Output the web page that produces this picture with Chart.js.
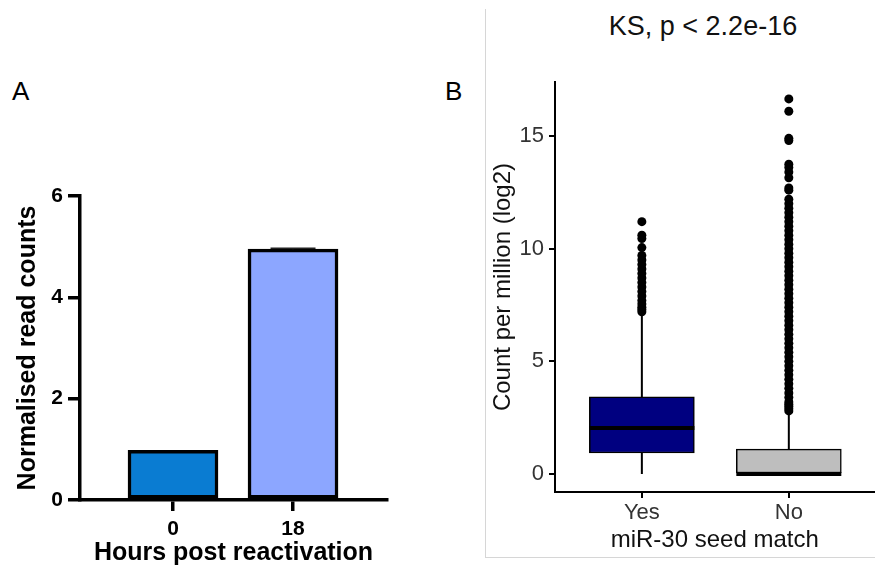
<!DOCTYPE html>
<html>
<head>
<meta charset="utf-8">
<script src="https://cdn.jsdelivr.net/npm/chart.js@4.4.1/dist/chart.umd.min.js"></script>
<style>
  html, body { margin: 0; padding: 0; background: #fff; overflow: hidden; }
  body { width: 875px; height: 572px; position: relative; font-family: "Liberation Sans", Arial, sans-serif; }
  .panel-label { position: absolute; font-size: 26px; line-height: 26px; color: #000; }
  #titleB { position: absolute; left: 531px; top: 10px; width: 344px; text-align: center;
            font-size: 27px; line-height: 32px; color: #111; white-space: nowrap; }
  #frameB { position: absolute; left: 485px; top: 9px; width: 390px; height: 548px;
            border-left: 1px solid #d6d6d6; border-bottom: 1px solid #d6d6d6; }
  #wrapA { position: absolute; left: 0; top: 0; width: 440px; height: 572px; }
  #wrapB { position: absolute; left: 485px; top: 0; width: 394px; height: 572px; }
</style>
</head>
<body>
<div id="frameB"></div>
<div class="panel-label" style="left:12px;top:78px">A</div>
<div class="panel-label" style="left:445px;top:78px">B</div>
<div id="titleB">KS, p &lt; 2.2e-16</div>
<div id="wrapA"><canvas id="chartA"></canvas></div>
<div id="wrapB"><canvas id="chartB"></canvas></div>
<script>
// panel A: bar chart
const hoursLabels = ['0', '18'];
const readCounts = [0.98, 4.95];
const readCountErr = [0, 0.02];
const countTicks = [0, 2, 4, 6];

// panel B: box plot
const seedLabels = ['Yes', 'No'];
const boxQ1 = [0.93, 0];
const boxMedian = [2.04, 0];
const boxQ3 = [3.42, 1.1];
const whiskerLow = [0, 0];
const whiskerHigh = [7.05, 2.72];
const outliersYes = [11.2, 10.6, 10.45, 10.05, 9.7, 9.5, 9.3, 9.1, 8.9, 8.7, 8.5, 8.3, 8.1, 7.9, 7.7, 7.55, 7.4, 7.3, 7.2];
const outliersNo = [16.65, 16.1, 14.9, 14.8, 13.75, 13.6, 13.4, 13.15, 12.7, 12.6, 12.2, 12.0, 11.8, 11.6, 11.4,
  11.2, 11.0, 10.8, 10.6, 10.4, 10.2, 10.0, 9.8, 9.6, 9.4, 9.2, 9.0, 8.8, 8.6, 8.4, 8.2, 8.0, 7.8, 7.6, 7.4,
  7.2, 7.0, 6.8, 6.6, 6.4, 6.2, 6.0, 5.8, 5.6, 5.4, 5.2, 5.0, 4.8, 4.6, 4.4, 4.2, 4.0, 3.8, 3.6, 3.4, 3.2,
  3.1, 3.0, 2.9, 2.8];
const cpmTicks = [0, 5, 10, 15];

const FONT = "'Liberation Sans', Arial, sans-serif";
const slot = i => i + 1; // category i sits at x = i + 1

// small error bar on top of the bars
const errorBars = {
  id: 'errorBars',
  afterDatasetsDraw(chart) {
    const { ctx, scales: { y } } = chart;
    const meta = chart.getDatasetMeta(0);
    ctx.save();
    ctx.strokeStyle = '#222';
    ctx.lineWidth = 1.5;
    meta.data.forEach((bar, i) => {
      const e = readCountErr[i];
      if (!e) return;
      const top = y.getPixelForValue(readCounts[i] + e);
      const half = bar.width / 4;
      ctx.beginPath();
      ctx.moveTo(bar.x, y.getPixelForValue(readCounts[i]));
      ctx.lineTo(bar.x, top);
      ctx.moveTo(bar.x - half, top);
      ctx.lineTo(bar.x + half, top);
      ctx.stroke();
    });
    ctx.restore();
  }
};

new Chart(document.getElementById('chartA'), {
  type: 'bar',
  data: {
    datasets: [{
      data: readCounts.map((v, i) => ({ x: slot(i), y: v })),
      backgroundColor: ['#0A7CD2', '#8CA6FF'],
      borderColor: '#000',
      borderWidth: 3.5,
      borderSkipped: false,
      barThickness: 90
    }]
  },
  options: {
    animation: false,
    responsive: true,
    maintainAspectRatio: false,
    layout: { padding: { top: 196, right: 53, left: 0, bottom: 0 } },
    plugins: { legend: { display: false }, tooltip: { enabled: false } },
    scales: {
      x: {
        type: 'linear', min: 0.225, max: 2.783, offset: false,
        afterBuildTicks: s => { s.ticks = hoursLabels.map((l, i) => ({ value: slot(i) })); },
        afterFit: s => { s.height = 72; },
        ticks: { callback: (v, i) => hoursLabels[i], font: { family: FONT, size: 21, weight: 'bold' },
                 color: '#000', padding: 6, maxRotation: 0, autoSkip: false },
        grid: { offset: false, drawOnChartArea: false, drawTicks: true, tickLength: 11, color: '#000', lineWidth: 3.5 },
        border: { color: '#000', width: 3.5 },
        title: { display: true, text: 'Hours post reactivation', font: { family: FONT, size: 25, weight: 'bold' },
                 color: '#000', padding: { top: 0, bottom: 4 } }
      },
      y: {
        min: 0, max: 6,
        afterBuildTicks: s => { s.ticks = countTicks.map(v => ({ value: v })); },
        afterFit: s => { s.width = 80; },
        ticks: { font: { family: FONT, size: 21, weight: 'bold' }, color: '#000', padding: 5 },
        grid: { drawOnChartArea: false, drawTicks: true, tickLength: 12, color: '#000', lineWidth: 3.5 },
        border: { color: '#000', width: 3.5 },
        title: { display: true, text: 'Normalised read counts', font: { family: FONT, size: 25, weight: 'bold' },
                 color: '#000', padding: { top: 13, bottom: 0 } }
      }
    }
  },
  plugins: [errorBars]
});

// whiskers under the boxes, medians on top
const boxParts = {
  id: 'boxParts',
  beforeDatasetsDraw(chart) {
    const { ctx, scales: { x, y } } = chart;
    ctx.save();
    ctx.strokeStyle = '#000';
    ctx.lineWidth = 2;
    seedLabels.forEach((l, i) => {
      const px = x.getPixelForValue(slot(i));
      ctx.beginPath();
      ctx.moveTo(px, y.getPixelForValue(whiskerHigh[i]));
      ctx.lineTo(px, y.getPixelForValue(boxQ3[i]));
      ctx.moveTo(px, y.getPixelForValue(boxQ1[i]));
      ctx.lineTo(px, y.getPixelForValue(whiskerLow[i]));
      ctx.stroke();
    });
    ctx.restore();
  },
  afterDatasetsDraw(chart) {
    const { ctx, scales: { y } } = chart;
    const boxes = chart.getDatasetMeta(0).data;
    ctx.save();
    ctx.strokeStyle = '#000';
    ctx.lineWidth = 4;
    boxes.forEach((b, i) => {
      const py = y.getPixelForValue(boxMedian[i]);
      ctx.beginPath();
      ctx.moveTo(b.x - b.width / 2, py);
      ctx.lineTo(b.x + b.width / 2, py);
      ctx.stroke();
    });
    ctx.restore();
  }
};

new Chart(document.getElementById('chartB'), {
  type: 'bar',
  data: {
    datasets: [
      {
        type: 'bar',
        data: seedLabels.map((l, i) => ({ x: slot(i), y: [boxQ1[i], boxQ3[i]] })),
        backgroundColor: ['#000080', '#BEBEBE'],
        borderColor: '#000',
        borderWidth: 1.5,
        borderSkipped: false,
        barThickness: 105,
        order: 1
      },
      {
        type: 'scatter',
        data: outliersYes.map(v => ({ x: slot(0), y: v })).concat(outliersNo.map(v => ({ x: slot(1), y: v }))),
        pointRadius: 4.5,
        pointBackgroundColor: '#000',
        pointBorderWidth: 0,
        showLine: false,
        order: 0
      }
    ]
  },
  options: {
    animation: false,
    responsive: true,
    maintainAspectRatio: false,
    layout: { padding: { left: 0, right: 0, top: 82, bottom: 0 } },
    plugins: { legend: { display: false }, tooltip: { enabled: false } },
    scales: {
      x: {
        type: 'linear', min: 0.409, max: 2.583, offset: false,
        afterBuildTicks: s => { s.ticks = seedLabels.map((l, i) => ({ value: slot(i) })); },
        afterFit: s => { s.height = 80; },
        ticks: { callback: (v, i) => seedLabels[i], font: { family: FONT, size: 22 }, color: '#333',
                 padding: 2, maxRotation: 0, autoSkip: false },
        grid: { offset: false, drawOnChartArea: false, drawTicks: true, tickLength: 6, color: '#000', lineWidth: 2 },
        border: { color: '#000', width: 2 },
        title: { display: true, text: 'miR-30 seed match', font: { family: FONT, size: 24 }, color: '#111',
                 padding: { top: 0, bottom: 17 } }
      },
      y: {
        min: -0.8, max: 17.4,
        afterBuildTicks: s => { s.ticks = cpmTicks.map(v => ({ value: v })); },
        afterFit: s => { s.width = 70; },
        ticks: { font: { family: FONT, size: 22 }, color: '#333', padding: 5 },
        grid: { drawOnChartArea: false, drawTicks: true, tickLength: 6, color: '#000', lineWidth: 2 },
        border: { color: '#000', width: 2 },
        title: { display: true, text: 'Count per million (log2)', font: { family: FONT, size: 24 }, color: '#111',
                 padding: { top: 4, bottom: 0 } }
      }
    }
  },
  plugins: [boxParts]
});
</script>
</body>
</html>
